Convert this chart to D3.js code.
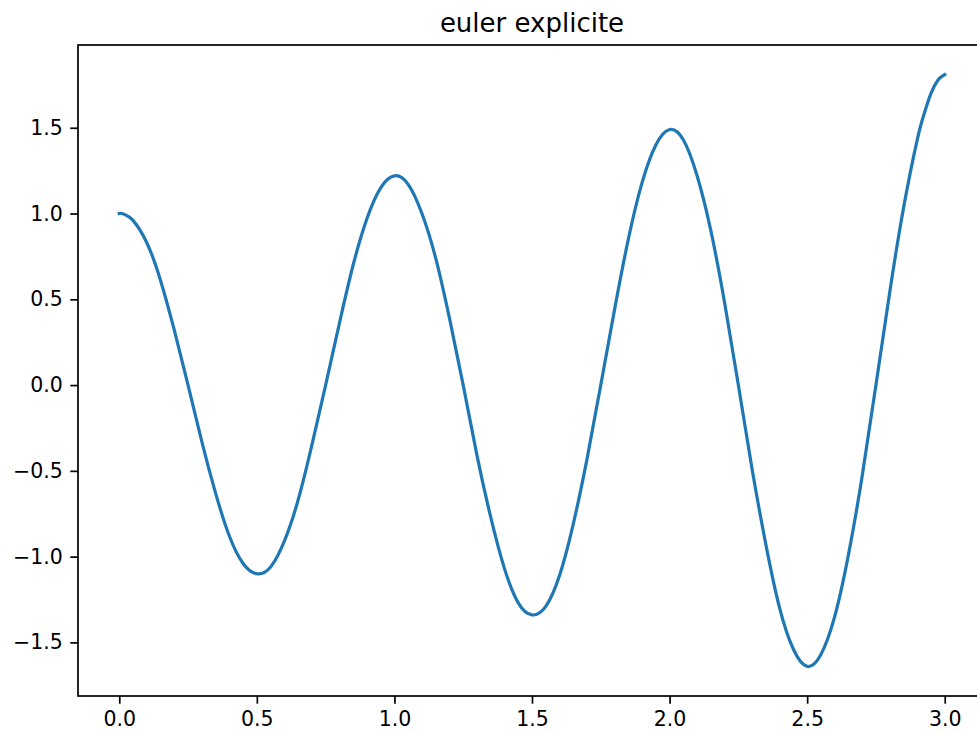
<!DOCTYPE html>
<html>
<head>
<meta charset="utf-8">
<script src="https://cdn.jsdelivr.net/npm/d3@7"></script>
<style>
  body { margin: 0; background: #fff; }
  svg { display: block; }
  .tick text { font-family: "DejaVu Sans", sans-serif; font-size: 20.5px; fill: #000; }
  .tick line { stroke: #000; stroke-width: 1.7px; }
</style>
</head>
<body>
<div class="container"></div>
<script>
// values (t, position)
var times = [0.00, 0.01, 0.025, 0.05, 0.10, 0.15, 0.20, 0.25, 0.30, 0.35, 0.40, 0.45,
             0.50, 0.55, 0.60, 0.65, 0.70, 0.75, 0.80, 0.85, 0.90, 0.95,
             1.00, 1.05, 1.10, 1.15, 1.20, 1.25, 1.30, 1.35, 1.40, 1.45,
             1.50, 1.55, 1.60, 1.65, 1.70, 1.75, 1.80, 1.85, 1.90, 1.95,
             2.00, 2.05, 2.10, 2.15, 2.20, 2.25, 2.30, 2.35, 2.40, 2.45,
             2.50, 2.55, 2.60, 2.65, 2.70, 2.75, 2.80, 2.85, 2.90, 2.925, 2.95,
             2.975, 2.99, 3.00];
var positions = [1.00, 1.00, 0.99, 0.96, 0.83, 0.61, 0.32, 0.00, -0.33, -0.63, -0.88, -1.04,
                 -1.10, -1.06, -0.91, -0.67, -0.35, 0.00, 0.36, 0.70, 0.97, 1.15,
                 1.22, 1.17, 1.00, 0.74, 0.39, 0.00, -0.41, -0.77, -1.07, -1.27,
                 -1.34, -1.29, -1.11, -0.81, -0.43, 0.00, 0.44, 0.85, 1.18, 1.40,
                 1.49, 1.43, 1.22, 0.90, 0.48, 0.00, -0.49, -0.93, -1.30, -1.54,
                 -1.64, -1.57, -1.35, -0.99, -0.53, 0.00, 0.54, 1.03, 1.43, 1.58, 1.70,
                 1.777, 1.80, 1.81];
var xTicks = [0.0, 0.5, 1.0, 1.5, 2.0, 2.5, 3.0];
var yTicks = [-1.5, -1.0, -0.5, 0.0, 0.5, 1.0, 1.5];
var title = "euler explicite";

//Width and height
var w = 977;
var h = 733;
var plotLeft = 78, plotRight = 986, plotTop = 45, plotBottom = 696;

var data = times.map(function(t, i) { return [t, positions[i]]; });

// matplotlib style 5% margins
var xExt = d3.extent(times), yExt = d3.extent(positions);
var xPad = (xExt[1] - xExt[0]) * 0.05, yPad = (yExt[1] - yExt[0]) * 0.05;

var x = d3.scaleLinear()
    .domain([xExt[0] - xPad, xExt[1] + xPad])
    .range([plotLeft, plotRight]);

var y = d3.scaleLinear()
    .domain([yExt[0] - yPad, yExt[1] + yPad])
    .range([plotBottom, plotTop]);

var svg = d3.select(".container")
    .append("svg")
    .attr("width", w)
    .attr("height", h);

// curve
var line = d3.line()
    .x(function(d) { return x(d[0]); })
    .y(function(d) { return y(d[1]); })
    .curve(d3.curveNatural);

svg.append("path")
    .datum(data)
    .attr("fill", "none")
    .attr("stroke", "#1f77b4")
    .attr("stroke-width", 3.2)
    .attr("stroke-linecap", "square")
    .attr("d", line);

// axes
var fmt = d3.format(".1f");

svg.append("g")
    .attr("transform", "translate(0," + plotBottom + ")")
    .call(d3.axisBottom(x).tickValues(xTicks).tickFormat(fmt).tickSize(7.7).tickPadding(7.5))
    .call(function(g) { g.select(".domain").remove(); })
    .selectAll("text").attr("font-family", null).attr("font-size", null);

svg.append("g")
    .attr("transform", "translate(" + plotLeft + ",0)")
    .call(d3.axisLeft(y).tickValues(yTicks).tickFormat(fmt).tickSize(7.7).tickPadding(7.5))
    .call(function(g) { g.select(".domain").remove(); })
    .selectAll("text").attr("font-family", null).attr("font-size", null);

// spines
svg.append("rect")
    .attr("x", plotLeft)
    .attr("y", plotTop)
    .attr("width", plotRight - plotLeft)
    .attr("height", plotBottom - plotTop)
    .attr("fill", "none")
    .attr("stroke", "#000")
    .attr("stroke-width", 1.7);

// title
svg.append("text")
    .attr("x", (plotLeft + plotRight) / 2)
    .attr("y", 32)
    .attr("text-anchor", "middle")
    .attr("font-family", "DejaVu Sans, sans-serif")
    .attr("font-size", 26)
    .attr("fill", "#000")
    .text(title);
</script>
</body>
</html>
